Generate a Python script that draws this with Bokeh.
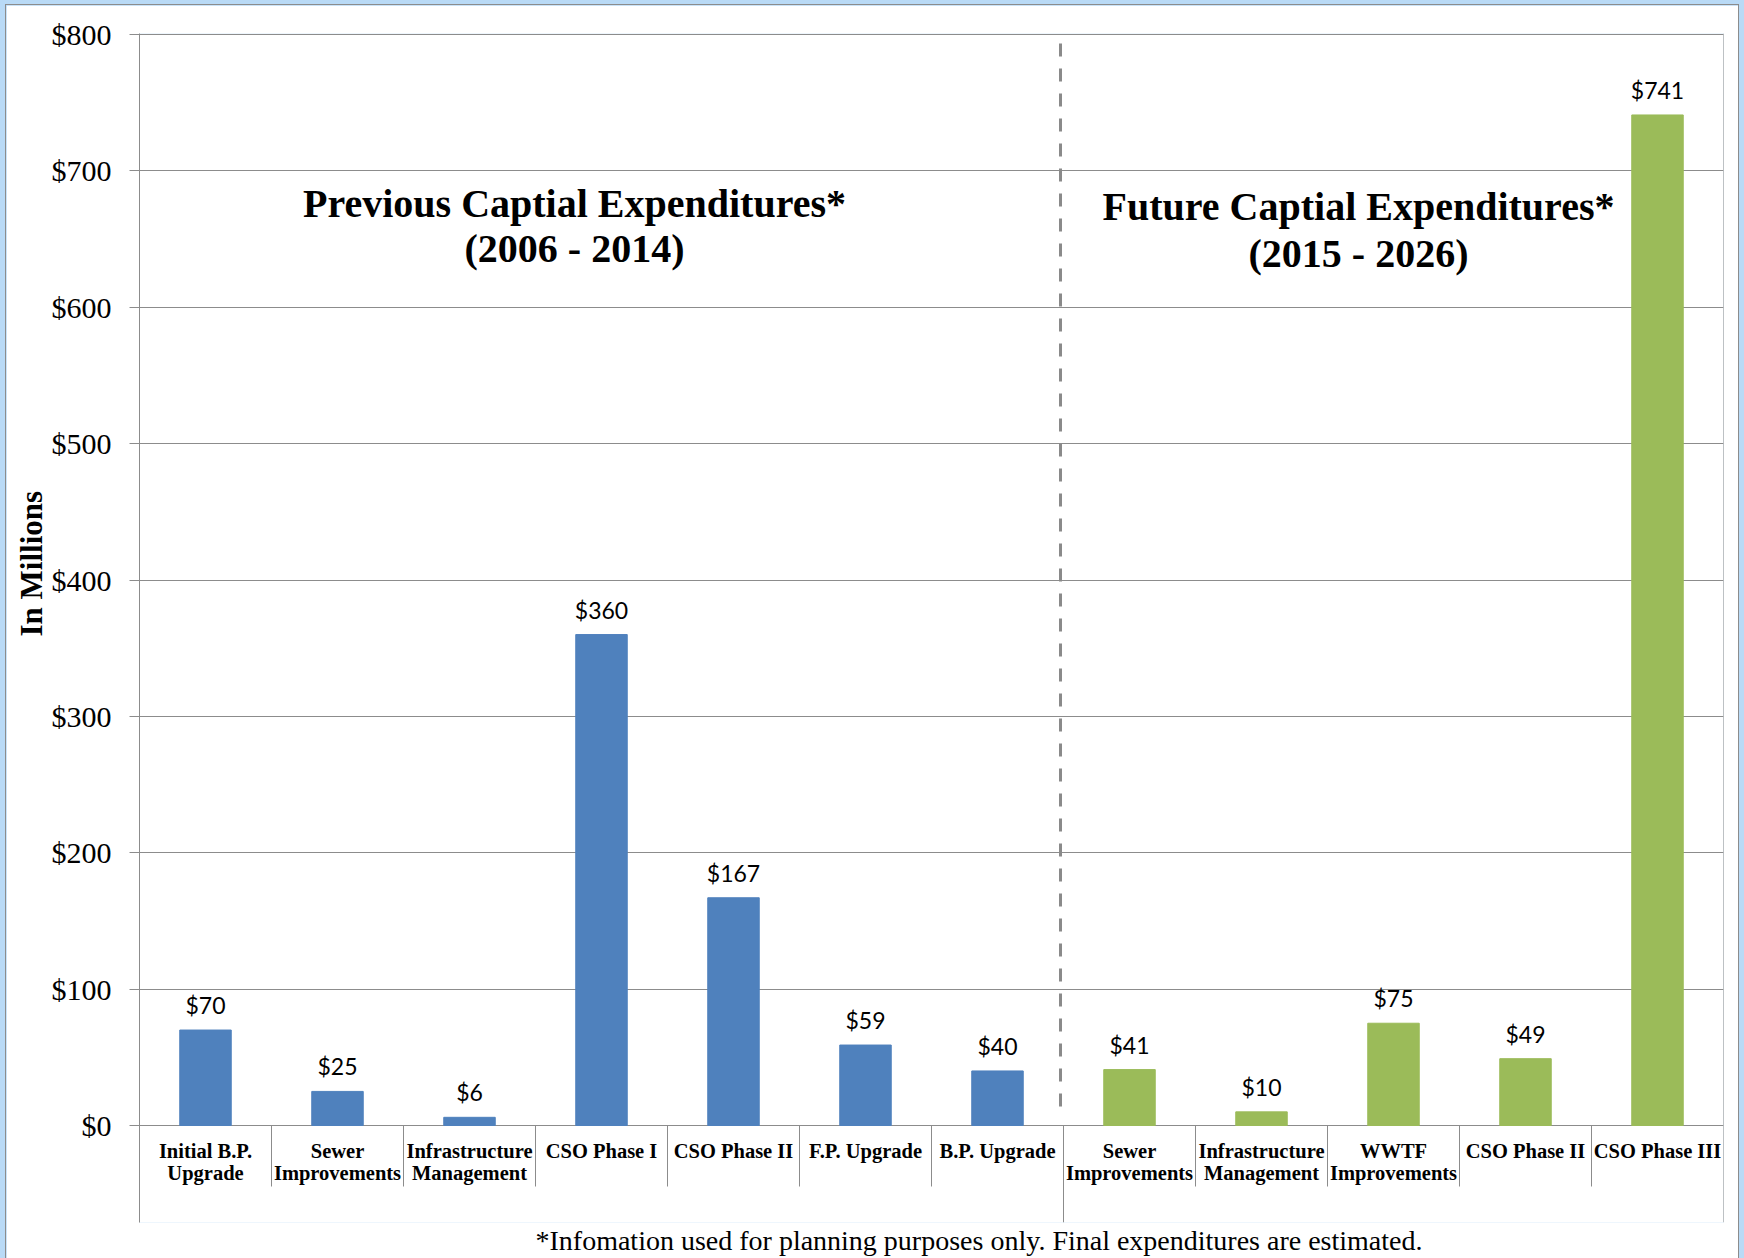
from bokeh.plotting import figure
from bokeh.layouts import column
from bokeh.models import Range1d, FixedTicker, NumeralTickFormatter, Span, Title
from bokeh.core.properties import value
from bokeh.embed import file_html
from bokeh.resources import INLINE

# ---------------- data ----------------
prev_categories = ["Initial B.P.\nUpgrade", "Sewer\nImprovements", "Infrastructure\nManagement",
                   "CSO Phase I", "CSO Phase II", "F.P. Upgrade", "B.P. Upgrade"]
prev_values = [70, 25, 6, 360, 167, 59, 40]
future_categories = ["Sewer\nImprovements", "Infrastructure\nManagement", "WWTF\nImprovements",
                     "CSO Phase II", "CSO Phase III"]
future_values = [41, 10, 75, 49, 741]
y_ticks = [0, 100, 200, 300, 400, 500, 600, 700, 800]
prev_title = ["Previous Captial Expenditures*", "(2006 - 2014)"]
future_title = ["Future Captial Expenditures*", "(2015 - 2026)"]
y_title = "In Millions"
footnote = "*Infomation used for planning purposes only.  Final expenditures are estimated."

# ---------------- layout (page pixel coordinates) ----------------
PAGE_W, PAGE_H = 1744, 1258
OX, OY = 6, 5                      # white sheet offset inside the blue frame
W, H = PAGE_W - 2 * OX, PAGE_H - OY
FL, FR, FT, FB = 139, 1723, 33, 1222
Y0, Y800 = 1125, 34
PX = (Y0 - Y800) / 800.0
N = len(prev_categories) + len(future_categories)
CW = (FR - FL) / N
Y_START = -(FB - Y0) / PX
Y_END = 800 + (Y800 - FT) / PX

def xd(px):
    return (px - FL) / CW

def yd(py):
    return (Y0 - py) / PX

BLUE = "#4F81BD"
GREEN = "#9BBB59"
GRAY = "#8C8C8C"
SERIF = "Liberation Serif"

p = figure(width=W, height=H, x_range=Range1d(0, N), y_range=Range1d(Y_START, Y_END),
           output_backend="svg", toolbar_location=None, x_axis_location=None,
           min_border_left=FL - OX, min_border_right=(PAGE_W - OX) - FR,
           min_border_top=FT - OY, min_border_bottom=PAGE_H - FB,
           border_fill_color="white", background_fill_color="white", outline_line_color=None)
p.margin = (OY, OX, 0, OX)
p.styles = {"outline": "1px solid #8C8C8C"}

# axes & grid
p.yaxis.ticker = FixedTicker(ticks=y_ticks)
p.yaxis.formatter = NumeralTickFormatter(format="$0")
p.yaxis.major_label_text_font = SERIF
p.yaxis.major_label_text_font_size = "30px"
p.yaxis.major_label_text_color = "black"
p.yaxis.major_label_standoff = 18
p.yaxis.major_tick_out = 10
p.yaxis.major_tick_in = 0
p.yaxis.minor_tick_out = 0
p.yaxis.minor_tick_in = 0
p.yaxis.axis_line_color = GRAY
p.yaxis.major_tick_line_color = GRAY
p.ygrid.ticker = FixedTicker(ticks=y_ticks)
p.ygrid.grid_line_color = GRAY
p.xgrid.visible = False

# y title (placed as a side title so it can sit where the reference has it)
p.add_layout(Title(text=y_title, align="left", offset=FB - 5 - 631, standoff=0,
                   text_font=SERIF, text_font_size="31px", text_font_style="bold",
                   text_color="black"), "left")

# footnote below the plot
p.add_layout(Title(text=footnote, align="left", offset=540 - FL - 5, standoff=0,
                   text_font=SERIF, text_font_size="28px", text_font_style="normal",
                   text_color="black"), "below")

# right edge line
p.add_layout(Span(location=N, dimension="height", line_color=GRAY, line_width=1))

# bars
prev_x = [i + 0.5 for i in range(len(prev_values))]
fut_x = [len(prev_values) + i + 0.5 for i in range(len(future_values))]
p.vbar(x=prev_x, top=prev_values, width=0.39, color=BLUE)
p.vbar(x=fut_x, top=future_values, width=0.39, color=GREEN)

# value labels
for xs, vals in ((prev_x, prev_values), (fut_x, future_values)):
    p.text(x=xs, y=vals, text=["$%d" % v for v in vals], y_offset=-25,
           text_align="center", text_baseline="middle", text_font=value("Lato"),
           text_font_size="23px", text_color="black")

# category labels
all_x = prev_x + fut_x
all_cats = prev_categories + future_categories
line1 = [c.split("\n")[0] for c in all_cats]
line2 = [c.split("\n")[1] if "\n" in c else "" for c in all_cats]
p.text(x=all_x, y=[0] * N, text=line1, y_offset=25, text_align="center", text_baseline="middle",
       text_font=value(SERIF), text_font_size="20.5px", text_font_style="bold", text_color="black")
p.text(x=all_x, y=[0] * N, text=line2, y_offset=47.5, text_align="center", text_baseline="middle",
       text_font=value(SERIF), text_font_size="20.5px", text_font_style="bold", text_color="black")

# category separators
split = len(prev_values)
short_x = [i for i in range(1, N) if i != split]
p.segment(x0=short_x, y0=[0] * len(short_x), x1=short_x, y1=[yd(1186)] * len(short_x),
          line_color=GRAY, line_width=1)
p.segment(x0=[split], y0=[0], x1=[split], y1=[Y_START], line_color=GRAY, line_width=1)

# dashed divider
p.segment(x0=[xd(1060)], y0=[yd(43)], x1=[xd(1060)], y1=[yd(1108)],
          line_color="#8A8A8A", line_width=3, line_dash="13 12")

# section titles
for title, cx, ys in ((prev_title, 574, (202.5, 248)), (future_title, 1358, (206, 252.5))):
    for t, yy in zip(title, ys):
        p.text(x=[xd(cx)], y=[yd(yy)], text=[t], text_align="center", text_baseline="middle",
               text_font=value(SERIF), text_font_size="40px", text_font_style="bold",
               text_color="black")

page = column(p, styles={"background-color": "#B9DAF6"})
open("out.html", "w").write(file_html(page, INLINE))
